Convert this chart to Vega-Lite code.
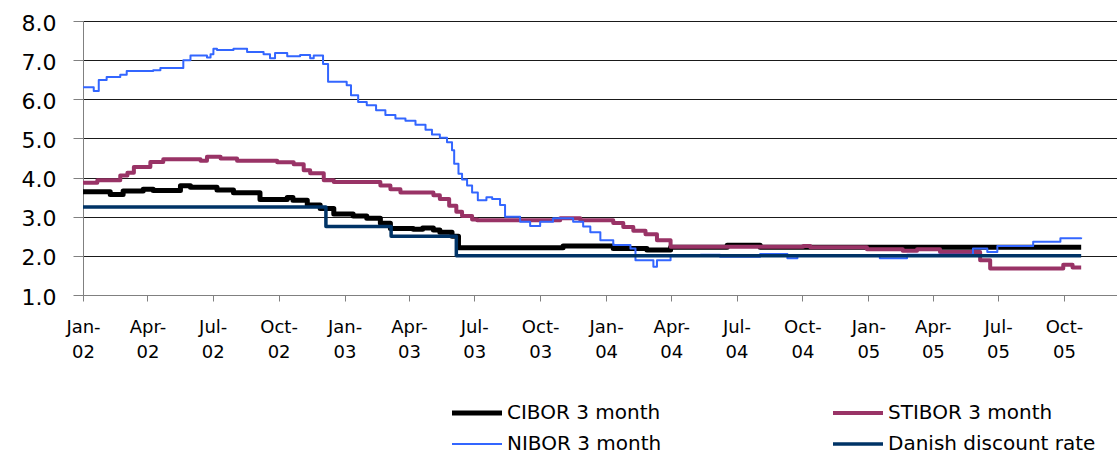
{
  "$schema": "https://vega.github.io/schema/vega-lite/v6.json",
  "width": 1034,
  "height": 274,
  "autosize": {"type": "none"},
  "padding": {"left": 83, "top": 21, "right": 0, "bottom": 162},
  "background": "#ffffff",
  "config": {"view": {"stroke": null}, "font": "DejaVu Sans"},
  "data": {"values": [
    {"d":"2002-01-01","s":"CIBOR 3 month","v":3.64},
    {"d":"2002-02-08","s":"CIBOR 3 month","v":3.57},
    {"d":"2002-02-26","s":"CIBOR 3 month","v":3.66},
    {"d":"2002-03-26","s":"CIBOR 3 month","v":3.70},
    {"d":"2002-04-09","s":"CIBOR 3 month","v":3.67},
    {"d":"2002-05-17","s":"CIBOR 3 month","v":3.79},
    {"d":"2002-05-31","s":"CIBOR 3 month","v":3.75},
    {"d":"2002-07-07","s":"CIBOR 3 month","v":3.68},
    {"d":"2002-07-30","s":"CIBOR 3 month","v":3.61},
    {"d":"2002-09-05","s":"CIBOR 3 month","v":3.44},
    {"d":"2002-10-13","s":"CIBOR 3 month","v":3.49},
    {"d":"2002-10-21","s":"CIBOR 3 month","v":3.42},
    {"d":"2002-11-10","s":"CIBOR 3 month","v":3.30},
    {"d":"2002-11-28","s":"CIBOR 3 month","v":3.21},
    {"d":"2002-12-17","s":"CIBOR 3 month","v":3.07},
    {"d":"2003-01-13","s":"CIBOR 3 month","v":3.02},
    {"d":"2003-02-01","s":"CIBOR 3 month","v":2.96},
    {"d":"2003-02-20","s":"CIBOR 3 month","v":2.83},
    {"d":"2003-03-06","s":"CIBOR 3 month","v":2.70},
    {"d":"2003-04-07","s":"CIBOR 3 month","v":2.68},
    {"d":"2003-04-20","s":"CIBOR 3 month","v":2.71},
    {"d":"2003-05-05","s":"CIBOR 3 month","v":2.66},
    {"d":"2003-05-14","s":"CIBOR 3 month","v":2.60},
    {"d":"2003-05-31","s":"CIBOR 3 month","v":2.50},
    {"d":"2003-06-09","s":"CIBOR 3 month","v":2.21},
    {"d":"2003-11-02","s":"CIBOR 3 month","v":2.25},
    {"d":"2004-01-11","s":"CIBOR 3 month","v":2.19},
    {"d":"2004-02-27","s":"CIBOR 3 month","v":2.15},
    {"d":"2004-03-31","s":"CIBOR 3 month","v":2.22},
    {"d":"2004-06-18","s":"CIBOR 3 month","v":2.27},
    {"d":"2004-08-03","s":"CIBOR 3 month","v":2.22},
    {"d":"2005-10-25","s":"CIBOR 3 month","v":2.22},

    {"d":"2002-01-01","s":"STIBOR 3 month","v":3.87},
    {"d":"2002-01-21","s":"STIBOR 3 month","v":3.93},
    {"d":"2002-02-22","s":"STIBOR 3 month","v":4.05},
    {"d":"2002-03-04","s":"STIBOR 3 month","v":4.12},
    {"d":"2002-03-13","s":"STIBOR 3 month","v":4.27},
    {"d":"2002-04-05","s":"STIBOR 3 month","v":4.40},
    {"d":"2002-04-23","s":"STIBOR 3 month","v":4.47},
    {"d":"2002-06-14","s":"STIBOR 3 month","v":4.43},
    {"d":"2002-06-23","s":"STIBOR 3 month","v":4.53},
    {"d":"2002-07-12","s":"STIBOR 3 month","v":4.49},
    {"d":"2002-08-04","s":"STIBOR 3 month","v":4.43},
    {"d":"2002-09-29","s":"STIBOR 3 month","v":4.39},
    {"d":"2002-10-22","s":"STIBOR 3 month","v":4.34},
    {"d":"2002-11-05","s":"STIBOR 3 month","v":4.19},
    {"d":"2002-11-14","s":"STIBOR 3 month","v":4.11},
    {"d":"2002-12-03","s":"STIBOR 3 month","v":3.93},
    {"d":"2002-12-17","s":"STIBOR 3 month","v":3.89},
    {"d":"2003-02-20","s":"STIBOR 3 month","v":3.80},
    {"d":"2003-03-06","s":"STIBOR 3 month","v":3.70},
    {"d":"2003-03-20","s":"STIBOR 3 month","v":3.62},
    {"d":"2003-05-05","s":"STIBOR 3 month","v":3.55},
    {"d":"2003-05-14","s":"STIBOR 3 month","v":3.45},
    {"d":"2003-05-27","s":"STIBOR 3 month","v":3.28},
    {"d":"2003-06-06","s":"STIBOR 3 month","v":3.13},
    {"d":"2003-06-14","s":"STIBOR 3 month","v":3.02},
    {"d":"2003-06-28","s":"STIBOR 3 month","v":2.93},
    {"d":"2003-07-05","s":"STIBOR 3 month","v":2.91},
    {"d":"2003-10-29","s":"STIBOR 3 month","v":2.96},
    {"d":"2003-11-26","s":"STIBOR 3 month","v":2.91},
    {"d":"2004-01-11","s":"STIBOR 3 month","v":2.84},
    {"d":"2004-01-25","s":"STIBOR 3 month","v":2.74},
    {"d":"2004-02-08","s":"STIBOR 3 month","v":2.64},
    {"d":"2004-02-25","s":"STIBOR 3 month","v":2.55},
    {"d":"2004-03-12","s":"STIBOR 3 month","v":2.40},
    {"d":"2004-03-31","s":"STIBOR 3 month","v":2.23},
    {"d":"2004-10-02","s":"STIBOR 3 month","v":2.25},
    {"d":"2004-10-12","s":"STIBOR 3 month","v":2.22},
    {"d":"2004-12-30","s":"STIBOR 3 month","v":2.17},
    {"d":"2005-02-18","s":"STIBOR 3 month","v":2.13},
    {"d":"2005-03-10","s":"STIBOR 3 month","v":2.17},
    {"d":"2005-04-11","s":"STIBOR 3 month","v":2.10},
    {"d":"2005-06-06","s":"STIBOR 3 month","v":1.89},
    {"d":"2005-06-20","s":"STIBOR 3 month","v":1.68},
    {"d":"2005-09-30","s":"STIBOR 3 month","v":1.77},
    {"d":"2005-10-13","s":"STIBOR 3 month","v":1.70},
    {"d":"2005-10-25","s":"STIBOR 3 month","v":1.70},

    {"d":"2002-01-01","s":"NIBOR 3 month","v":6.31},
    {"d":"2002-01-16","s":"NIBOR 3 month","v":6.21},
    {"d":"2002-01-23","s":"NIBOR 3 month","v":6.49},
    {"d":"2002-02-03","s":"NIBOR 3 month","v":6.57},
    {"d":"2002-02-22","s":"NIBOR 3 month","v":6.63},
    {"d":"2002-03-03","s":"NIBOR 3 month","v":6.72},
    {"d":"2002-04-09","s":"NIBOR 3 month","v":6.74},
    {"d":"2002-04-19","s":"NIBOR 3 month","v":6.80},
    {"d":"2002-05-21","s":"NIBOR 3 month","v":7.00},
    {"d":"2002-05-31","s":"NIBOR 3 month","v":7.12},
    {"d":"2002-06-23","s":"NIBOR 3 month","v":7.07},
    {"d":"2002-06-28","s":"NIBOR 3 month","v":7.15},
    {"d":"2002-07-02","s":"NIBOR 3 month","v":7.29},
    {"d":"2002-07-07","s":"NIBOR 3 month","v":7.26},
    {"d":"2002-07-30","s":"NIBOR 3 month","v":7.29},
    {"d":"2002-08-18","s":"NIBOR 3 month","v":7.21},
    {"d":"2002-09-10","s":"NIBOR 3 month","v":7.15},
    {"d":"2002-09-19","s":"NIBOR 3 month","v":7.05},
    {"d":"2002-09-26","s":"NIBOR 3 month","v":7.18},
    {"d":"2002-10-13","s":"NIBOR 3 month","v":7.10},
    {"d":"2002-10-31","s":"NIBOR 3 month","v":7.13},
    {"d":"2002-11-14","s":"NIBOR 3 month","v":7.05},
    {"d":"2002-11-19","s":"NIBOR 3 month","v":7.12},
    {"d":"2002-12-02","s":"NIBOR 3 month","v":6.90},
    {"d":"2002-12-09","s":"NIBOR 3 month","v":6.45},
    {"d":"2003-01-04","s":"NIBOR 3 month","v":6.36},
    {"d":"2003-01-10","s":"NIBOR 3 month","v":6.10},
    {"d":"2003-01-20","s":"NIBOR 3 month","v":5.93},
    {"d":"2003-02-01","s":"NIBOR 3 month","v":5.85},
    {"d":"2003-02-14","s":"NIBOR 3 month","v":5.72},
    {"d":"2003-02-27","s":"NIBOR 3 month","v":5.60},
    {"d":"2003-03-13","s":"NIBOR 3 month","v":5.51},
    {"d":"2003-03-27","s":"NIBOR 3 month","v":5.45},
    {"d":"2003-04-10","s":"NIBOR 3 month","v":5.35},
    {"d":"2003-04-24","s":"NIBOR 3 month","v":5.22},
    {"d":"2003-05-03","s":"NIBOR 3 month","v":5.10},
    {"d":"2003-05-14","s":"NIBOR 3 month","v":5.02},
    {"d":"2003-05-24","s":"NIBOR 3 month","v":4.90},
    {"d":"2003-05-31","s":"NIBOR 3 month","v":4.70},
    {"d":"2003-06-03","s":"NIBOR 3 month","v":4.35},
    {"d":"2003-06-09","s":"NIBOR 3 month","v":4.10},
    {"d":"2003-06-14","s":"NIBOR 3 month","v":3.95},
    {"d":"2003-06-21","s":"NIBOR 3 month","v":3.80},
    {"d":"2003-06-28","s":"NIBOR 3 month","v":3.62},
    {"d":"2003-07-06","s":"NIBOR 3 month","v":3.42},
    {"d":"2003-07-18","s":"NIBOR 3 month","v":3.50},
    {"d":"2003-07-26","s":"NIBOR 3 month","v":3.45},
    {"d":"2003-08-06","s":"NIBOR 3 month","v":3.30},
    {"d":"2003-08-13","s":"NIBOR 3 month","v":3.00},
    {"d":"2003-09-03","s":"NIBOR 3 month","v":2.87},
    {"d":"2003-09-17","s":"NIBOR 3 month","v":2.76},
    {"d":"2003-10-01","s":"NIBOR 3 month","v":2.87},
    {"d":"2003-10-19","s":"NIBOR 3 month","v":2.96},
    {"d":"2003-11-16","s":"NIBOR 3 month","v":2.87},
    {"d":"2003-11-30","s":"NIBOR 3 month","v":2.75},
    {"d":"2003-12-10","s":"NIBOR 3 month","v":2.60},
    {"d":"2003-12-24","s":"NIBOR 3 month","v":2.40},
    {"d":"2004-01-11","s":"NIBOR 3 month","v":2.28},
    {"d":"2004-02-04","s":"NIBOR 3 month","v":2.19},
    {"d":"2004-02-11","s":"NIBOR 3 month","v":1.89},
    {"d":"2004-03-07","s":"NIBOR 3 month","v":1.72},
    {"d":"2004-03-12","s":"NIBOR 3 month","v":1.89},
    {"d":"2004-03-31","s":"NIBOR 3 month","v":2.00},
    {"d":"2004-05-12","s":"NIBOR 3 month","v":2.03},
    {"d":"2004-06-08","s":"NIBOR 3 month","v":1.98},
    {"d":"2004-08-03","s":"NIBOR 3 month","v":2.05},
    {"d":"2004-09-10","s":"NIBOR 3 month","v":1.94},
    {"d":"2004-09-24","s":"NIBOR 3 month","v":2.02},
    {"d":"2005-01-17","s":"NIBOR 3 month","v":1.94},
    {"d":"2005-02-24","s":"NIBOR 3 month","v":2.03},
    {"d":"2005-05-27","s":"NIBOR 3 month","v":2.19},
    {"d":"2005-06-16","s":"NIBOR 3 month","v":2.10},
    {"d":"2005-06-30","s":"NIBOR 3 month","v":2.25},
    {"d":"2005-08-19","s":"NIBOR 3 month","v":2.36},
    {"d":"2005-09-26","s":"NIBOR 3 month","v":2.45},
    {"d":"2005-10-25","s":"NIBOR 3 month","v":2.47},

    {"d":"2002-01-01","s":"Danish discount rate","v":3.25},
    {"d":"2002-12-06","s":"Danish discount rate","v":2.75},
    {"d":"2003-03-07","s":"Danish discount rate","v":2.50},
    {"d":"2003-06-06","s":"Danish discount rate","v":2.00},
    {"d":"2005-10-25","s":"Danish discount rate","v":2.00}
  ]},
  "mark": {"type": "line", "interpolate": "step-after", "strokeJoin": "round"},
  "encoding": {
    "x": {
      "field": "d", "type": "temporal",
      "scale": {"type": "utc", "domain": [
        {"year": 2002, "month": 1, "date": 1, "utc": true},
        {"year": 2005, "month": 12, "date": 14, "utc": true}
      ]},
      "axis": {
        "title": null,
        "grid": false,
        "values": [
          {"year": 2002, "month": 1, "date": 1, "utc": true},
          {"year": 2002, "month": 4, "date": 1, "utc": true},
          {"year": 2002, "month": 7, "date": 1, "utc": true},
          {"year": 2002, "month": 10, "date": 1, "utc": true},
          {"year": 2003, "month": 1, "date": 1, "utc": true},
          {"year": 2003, "month": 4, "date": 1, "utc": true},
          {"year": 2003, "month": 7, "date": 1, "utc": true},
          {"year": 2003, "month": 10, "date": 1, "utc": true},
          {"year": 2004, "month": 1, "date": 1, "utc": true},
          {"year": 2004, "month": 4, "date": 1, "utc": true},
          {"year": 2004, "month": 7, "date": 1, "utc": true},
          {"year": 2004, "month": 10, "date": 1, "utc": true},
          {"year": 2005, "month": 1, "date": 1, "utc": true},
          {"year": 2005, "month": 4, "date": 1, "utc": true},
          {"year": 2005, "month": 7, "date": 1, "utc": true},
          {"year": 2005, "month": 10, "date": 1, "utc": true}
        ],
        "labelExpr": "[utcFormat(datum.value, '%b-'), utcFormat(datum.value, '%y')]",
        "labelFont": "DejaVu Sans",
        "labelFontSize": 18,
        "labelLineHeight": 25,
        "labelColor": "#000000",
        "labelPadding": 17,
        "labelFlush": false,
        "labelOverlap": false,
        "labelBaseline": "top",
        "domainColor": "#808080",
        "tickColor": "#808080",
        "tickSize": 6
      }
    },
    "y": {
      "field": "v", "type": "quantitative",
      "scale": {"domain": [1, 8], "nice": false, "zero": false},
      "axis": {
        "title": null,
        "values": [1, 2, 3, 4, 5, 6, 7, 8],
        "format": ".1f",
        "grid": true,
        "gridColor": {"condition": {"test": "datum.value == 1", "value": "#808080"}, "value": "#1a1a1a"},
        "gridWidth": 1,
        "labelFont": "DejaVu Sans",
        "labelFontSize": 22,
        "labelColor": "#000000",
        "labelPadding": 17,
        "labelOffset": 2,
        "domainColor": "#808080",
        "tickColor": "#808080",
        "tickSize": 10
      }
    },
    "color": {
      "field": "s", "type": "nominal",
      "scale": {
        "domain": ["CIBOR 3 month", "STIBOR 3 month", "NIBOR 3 month", "Danish discount rate"],
        "range": ["#000000", "#993366", "#3366ff", "#003366"]
      },
      "legend": {
        "title": null,
        "orient": "none",
        "legendX": 369,
        "legendY": 382,
        "columns": 2,
        "direction": "horizontal",
        "padding": 0,
        "symbolType": "M-5,0H5",
        "symbolSize": 100,
        "symbolOffset": 15,
        "labelOffset": 20,
        "labelFont": "DejaVu Sans",
        "labelFontSize": 20,
        "labelColor": "#000000",
        "labelLimit": 400,
        "columnPadding": 163,
        "rowPadding": 11
      }
    },
    "strokeWidth": {
      "field": "s", "type": "nominal",
      "scale": {
        "type": "ordinal",
        "domain": ["CIBOR 3 month", "STIBOR 3 month", "NIBOR 3 month", "Danish discount rate"],
        "range": [5, 4, 2, 3.5]
      },
      "legend": {
        "title": null,
        "orient": "none",
        "legendX": 369,
        "legendY": 382,
        "columns": 2,
        "direction": "horizontal",
        "padding": 0,
        "symbolType": "M-5,0H5",
        "symbolSize": 100,
        "symbolOffset": 15,
        "labelOffset": 20,
        "labelFont": "DejaVu Sans",
        "labelFontSize": 20,
        "labelColor": "#000000",
        "labelLimit": 400,
        "columnPadding": 163,
        "rowPadding": 11
      }
    }
  }
}
